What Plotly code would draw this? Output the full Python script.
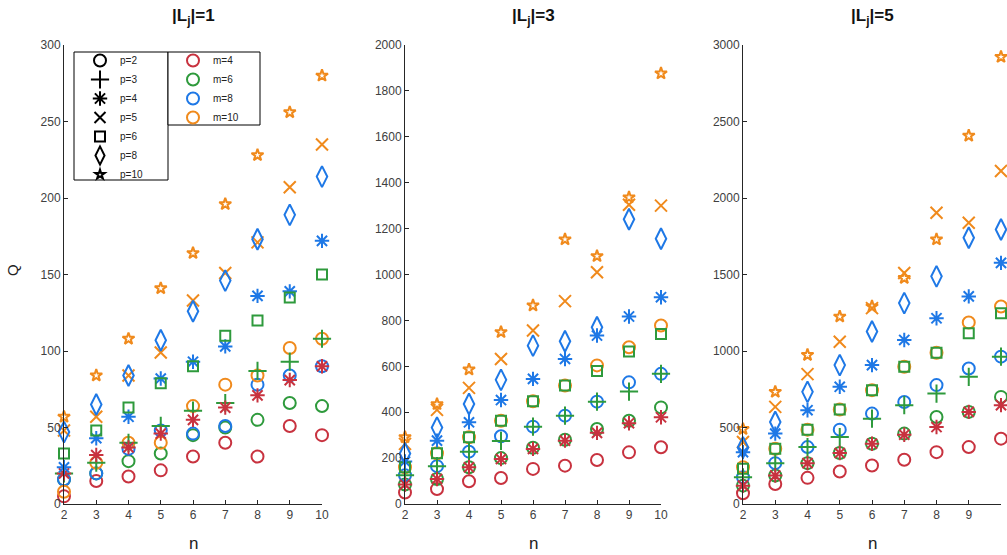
import plotly.graph_objects as go

# ---------------- data ----------------
n = [2, 3, 4, 5, 6, 7, 8, 9, 10]
m_values = [4, 6, 8, 10]
p_values = [2, 3, 4, 5, 6, 8, 10]
panel_titles = ["<b>|L<sub>j</sub>|=1</b>", "<b>|L<sub>j</sub>|=3</b>", "<b>|L<sub>j</sub>|=5</b>"]
y_ticks_1 = [0, 50, 100, 150, 200, 250, 300]
y_ticks_2 = [0, 200, 400, 600, 800, 1000, 1200, 1400, 1600, 1800, 2000]
y_ticks_3 = [0, 500, 1000, 1500, 2000, 2500, 3000]

# panel 1  (|Lj| = 1)
q1_m4_p2 = [5, 15, 18, 22, 31, 40, 31, 51, 45]
q1_m4_p4 = [20, 32, 37, 46, 55, 63, 71, 81, 90]
q1_m6_p2 = [16, 20, 28, 33, 45, 50, 55, 66, 64]
q1_m6_p3 = [20, 27, 40, 51, 61, 66, 87, 93, 108]
q1_m6_p6 = [33, 48, 63, 79, 90, 110, 120, 135, 150]
q1_m8_p2 = [16, 20, 36, 48, 46, 51, 78, 84, 90]
q1_m8_p4 = [24, 43, 57, 82, 93, 103, 136, 139, 172]
q1_m8_p8 = [47, 65, 84, 107, 126, 146, 173, 189, 214]
q1_m10_p2 = [8, 27, 40, 40, 64, 78, 84, 102, 108]
q1_m10_p5 = [48, 57, 84, 99, 133, 151, 171, 207, 235]
q1_m10_p10 = [57, 84, 108, 141, 164, 196, 228, 256, 280]

# panel 2  (|Lj| = 3)
q2_m4_p2 = [50, 65, 99, 113, 153, 167, 192, 225, 247]
q2_m4_p4 = [85, 109, 160, 196, 240, 276, 310, 352, 378]
q2_m6_p2 = [85, 109, 160, 200, 245, 280, 327, 363, 421]
q2_m6_p3 = [125, 165, 228, 275, 337, 385, 446, 490, 567]
q2_m6_p6 = [160, 221, 291, 363, 448, 516, 580, 665, 741]
q2_m8_p2 = [125, 165, 228, 295, 337, 385, 446, 530, 567]
q2_m8_p4 = [185, 276, 356, 453, 545, 632, 734, 817, 901]
q2_m8_p8 = [220, 333, 436, 541, 690, 709, 770, 1241, 1156]
q2_m10_p2 = [160, 221, 291, 363, 448, 516, 604, 683, 778]
q2_m10_p5 = [262, 410, 506, 632, 756, 884, 1010, 1304, 1300]
q2_m10_p10 = [291, 435, 586, 749, 865, 1153, 1080, 1336, 1876]

# panel 3  (|Lj| = 5)
q3_m4_p2 = [70, 131, 171, 212, 252, 289, 339, 372, 427]
q3_m4_p4 = [120, 186, 267, 333, 394, 453, 503, 602, 646]
q3_m6_p2 = [120, 186, 267, 333, 394, 460, 569, 602, 700]
q3_m6_p3 = [175, 267, 372, 438, 558, 646, 722, 831, 963]
q3_m6_p6 = [230, 361, 486, 617, 744, 897, 989, 1116, 1247]
q3_m8_p2 = [175, 267, 372, 486, 591, 667, 777, 886, 963]
q3_m8_p4 = [339, 460, 613, 766, 908, 1072, 1214, 1357, 1576]
q3_m8_p8 = [370, 536, 733, 908, 1127, 1313, 1488, 1740, 1794]
q3_m10_p2 = [240, 361, 486, 617, 744, 897, 989, 1186, 1291]
q3_m10_p5 = [405, 635, 849, 1061, 1280, 1510, 1904, 1838, 2177]
q3_m10_p10 = [490, 733, 974, 1225, 1291, 1477, 1729, 2407, 2922]

panels = [
    {(4, 2): q1_m4_p2, (4, 4): q1_m4_p4, (6, 2): q1_m6_p2, (6, 3): q1_m6_p3,
     (6, 6): q1_m6_p6, (8, 2): q1_m8_p2, (8, 4): q1_m8_p4, (8, 8): q1_m8_p8,
     (10, 2): q1_m10_p2, (10, 5): q1_m10_p5, (10, 10): q1_m10_p10},
    {(4, 2): q2_m4_p2, (4, 4): q2_m4_p4, (6, 2): q2_m6_p2, (6, 3): q2_m6_p3,
     (6, 6): q2_m6_p6, (8, 2): q2_m8_p2, (8, 4): q2_m8_p4, (8, 8): q2_m8_p8,
     (10, 2): q2_m10_p2, (10, 5): q2_m10_p5, (10, 10): q2_m10_p10},
    {(4, 2): q3_m4_p2, (4, 4): q3_m4_p4, (6, 2): q3_m6_p2, (6, 3): q3_m6_p3,
     (6, 6): q3_m6_p6, (8, 2): q3_m8_p2, (8, 4): q3_m8_p4, (8, 8): q3_m8_p8,
     (10, 2): q3_m10_p2, (10, 5): q3_m10_p5, (10, 10): q3_m10_p10},
]
y_ticks = [y_ticks_1, y_ticks_2, y_ticks_3]

# ---------------- style ----------------
m_colors = {4: "#C8323F", 6: "#2E9A3C", 8: "#1E78E6", 10: "#F08A1C"}
p_symbols = {2: "circle-open", 3: "cross-thin-open", 4: "asterisk-open",
             5: "x-thin-open", 6: "square-open", 8: "diamond-tall-open",
             10: "star-open"}
p_sizes = {2: 12, 3: 13, 4: 12, 5: 12, 6: 10, 8: 15, 10: 9}
leg_sizes = {2: 12, 3: 13, 4: 12, 5: 11, 6: 10, 8: 13, 10: 7}
FONT = "Liberation Sans, Arial, sans-serif"
AX = "#262626"
TICK = "#404040"

W, H = 1007, 555
x_px = [(64, 322), (405, 661), (743, 1001)]
y_px = (45, 504)

fig = go.Figure()

for k, data in enumerate(panels):
    xa = "x" if k == 0 else f"x{k+1}"
    ya = "y" if k == 0 else f"y{k+1}"
    combos = sorted(data.keys(), key=lambda c: (c[1], c[0]))
    for (m, p) in combos:
        fig.add_trace(go.Scatter(
            x=n, y=data[(m, p)], mode="markers", xaxis=xa, yaxis=ya,
            showlegend=False, cliponaxis=False,
            name=f"m={m}, p={p}",
            marker=dict(symbol=p_symbols[p], size=p_sizes[p], color=m_colors[m],
                        line=dict(width=2, color=m_colors[m])),
        ))

# legend entries
for p in p_values:
    fig.add_trace(go.Scatter(
        x=[None], y=[None], mode="markers", name=f"p={p}", legend="legend",
        marker=dict(symbol=p_symbols[p], size=leg_sizes[p], color="black",
                    line=dict(width=2, color="black")),
    ))
for m in m_values:
    fig.add_trace(go.Scatter(
        x=[None], y=[None], mode="markers", name=f"m={m}", legend="legend2",
        marker=dict(symbol="circle-open", size=12, color=m_colors[m],
                    line=dict(width=2, color=m_colors[m])),
    ))

legend_common = dict(xanchor="left", yanchor="top",
                     borderwidth=0, bgcolor="rgba(0,0,0,0)",
                     font=dict(size=10, family=FONT, color="#222"),
                     itemsizing="trace", tracegroupgap=0)

layout = dict(
    width=W, height=H, margin=dict(l=0, r=0, t=0, b=0, pad=0, autoexpand=False),
    plot_bgcolor="white", paper_bgcolor="white",
    font=dict(family=FONT, color=AX, size=12),
    legend=dict(x=80 / W, y=1 - 46 / H, **legend_common),
    legend2=dict(x=173 / W, y=1 - 46 / H, **legend_common),
    annotations=[],
    shapes=[
        dict(type="rect", xref="paper", yref="paper", x0=74 / W, x1=168 / W,
             y0=1 - 180 / H, y1=1 - 52 / H, line=dict(color="black", width=1),
             fillcolor="white", layer="below"),
        dict(type="rect", xref="paper", yref="paper", x0=168 / W, x1=260 / W,
             y0=1 - 125 / H, y1=1 - 52 / H, line=dict(color="black", width=1),
             fillcolor="white", layer="below"),
    ],
)

for k in range(3):
    sx = "" if k == 0 else str(k + 1)
    x0, x1 = x_px[k]
    layout["xaxis" + sx] = dict(
        domain=[x0 / W, x1 / W], range=[2, 10], tickvals=n, automargin=False,
        anchor="y" + sx, showline=True, linecolor=AX, linewidth=1,
        ticks="inside", ticklen=4, tickcolor=AX, showgrid=False, zeroline=False,
        tickfont=dict(size=12, color=TICK, family=FONT), fixedrange=True,
    )
    yt = y_ticks[k]
    layout["yaxis" + sx] = dict(
        domain=[1 - y_px[1] / H, 1 - y_px[0] / H], range=[yt[0], yt[-1]],
        tickvals=yt, anchor="x" + sx, showline=True, linecolor=AX, linewidth=1,
        automargin=False,
        ticks="inside", ticklen=4, tickcolor=AX, showgrid=False, zeroline=False,
        tickfont=dict(size=12, color=TICK, family=FONT), fixedrange=True,
    )
    xc = (x0 + x1) / 2 / W
    layout["annotations"].append(dict(
        text=panel_titles[k], x=xc, y=1 - 17 / H, xref="paper", yref="paper",
        showarrow=False, xanchor="center", yanchor="middle",
        font=dict(size=17, family=FONT, color="#111")))
    layout["annotations"].append(dict(
        text="n", x=xc, y=1 - 543 / H, xref="paper", yref="paper",
        showarrow=False, xanchor="center", yanchor="middle",
        font=dict(size=17, family=FONT, color="#222")))

layout["annotations"].append(dict(
    text="Q", x=12 / W, y=1 - 270 / H, xref="paper", yref="paper",
    showarrow=False, xanchor="center", yanchor="middle", textangle=-90,
    font=dict(size=15, family=FONT, color="#222")))

fig.update_layout(**layout)
fig.write_html(
    "out.html",
    config={"displayModeBar": False, "staticPlot": True},
    post_script="document.body.style.margin='0px';document.body.style.overflow='hidden';",
)
